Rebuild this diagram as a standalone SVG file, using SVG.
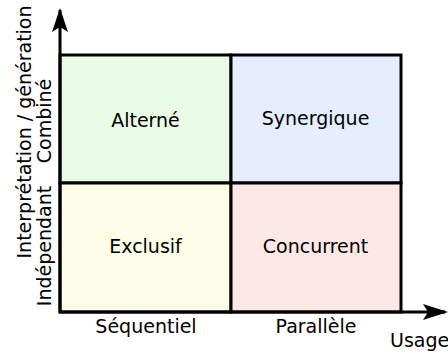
<svg xmlns="http://www.w3.org/2000/svg" width="448" height="353" viewBox="0 0 448 353">
<style>
text{font-family:"DejaVu Sans",sans-serif;font-size:19px;fill:#000}
.c{stroke:#000;stroke-width:3}
.ax{stroke:#000;stroke-width:3;fill:none}
</style>
<rect width="448" height="353" fill="#fff"/>
<g id="alterne"><rect class="c" x="60" y="55" width="171" height="128" fill="#ebfce6"/><text x="145.5" y="127" text-anchor="middle">Alterné</text></g>
<g id="synergique"><rect class="c" x="231" y="55" width="170" height="128" fill="#e6eefe"/><text x="315.5" y="125" text-anchor="middle">Synergique</text></g>
<g id="exclusif"><rect class="c" x="60" y="183" width="171" height="129" fill="#fefee8"/><text x="145.5" y="253" text-anchor="middle">Exclusif</text></g>
<g id="concurrent"><rect class="c" x="231" y="183" width="170" height="129" fill="#fee8e6"/><text x="315.5" y="253" text-anchor="middle">Concurrent</text></g>
<g id="connectors">
<path d="M60,313 V10" class="ax"/>
<path d="M60,8 L52,32 L60,27 L68,32 Z" fill="#000"/>
<path d="M59,312 H445" class="ax"/>
<path d="M448,312 L423,304 L428,312 L423,320 Z" fill="#000"/>
</g>
<g id="labels">
<text x="146" y="333" text-anchor="middle">Séquentiel</text>
<text x="316" y="333" text-anchor="middle">Parallèle</text>
<text x="390" y="347">Usage</text>
<text transform="translate(51,246) rotate(-90)" text-anchor="middle">Indépendant</text>
<text transform="translate(51,121) rotate(-90)" text-anchor="middle">Combiné</text>
<text transform="translate(31,132) rotate(-90)" text-anchor="middle">Interprétation / génération</text>
</g>
</svg>
